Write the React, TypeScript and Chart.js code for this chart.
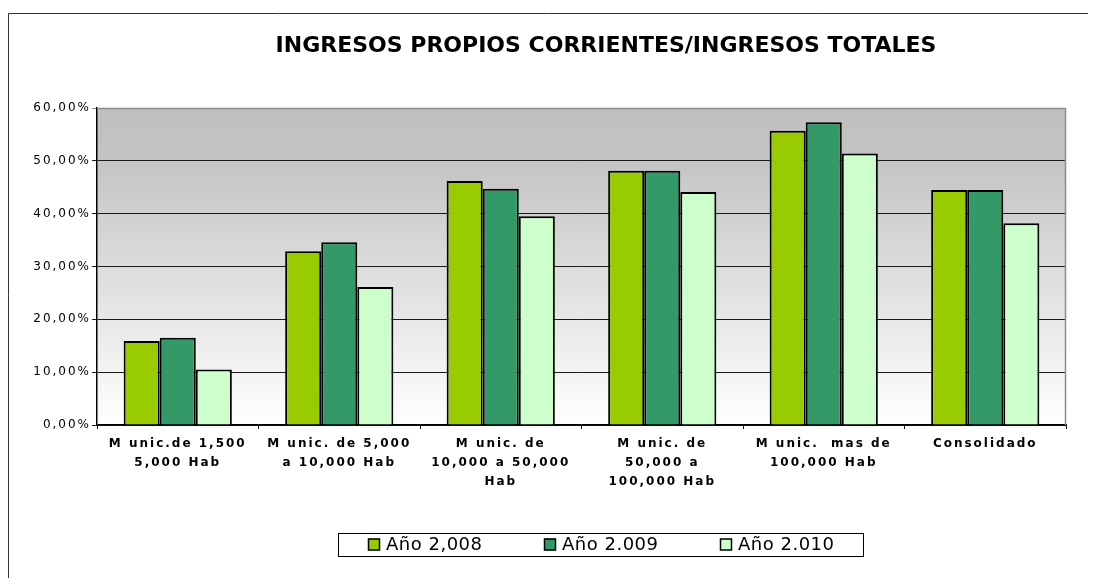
import React, { useEffect, useRef } from 'react';
import { Chart, registerables } from 'chart.js';

Chart.register(...registerables);

const chartTitle = 'INGRESOS PROPIOS CORRIENTES/INGRESOS TOTALES';
const categories = [
  ['M unic.de 1,500', '5,000 Hab'],
  ['M unic. de 5,000', 'a 10,000 Hab'],
  ['M unic. de', '10,000 a 50,000', 'Hab'],
  ['M unic. de', '50,000 a', '100,000 Hab'],
  ['M unic.  mas de', '100,000 Hab'],
  ['Consolidado'],
];
const seriesNames = ['Año 2,008', 'Año 2.009', 'Año 2.010'];
const values2008 = [15.9, 32.9, 46.2, 48.1, 55.7, 44.5];
const values2009 = [16.5, 34.6, 44.7, 48.1, 57.3, 44.5];
const values2010 = [10.5, 26.1, 39.5, 44.1, 51.4, 38.2];
const yTickLabels = ['0,00%', '10,00%', '20,00%', '30,00%', '40,00%', '50,00%', '60,00%'];
const seriesColors = ['#99CC00', '#339966', '#CCFFCC'];

const W = 1080;
const H = 570;

const decorPlugin = {
  id: 'decor',
  beforeDraw(chart: any) {
    const { ctx, chartArea: a } = chart;
    ctx.save();
    // outer frame (left + top)
    ctx.strokeStyle = '#333333';
    ctx.lineWidth = 1;
    ctx.beginPath();
    ctx.moveTo(0.5, H);
    ctx.lineTo(0.5, 5.5);
    ctx.lineTo(W, 5.5);
    ctx.stroke();
    // plot background gradient
    const g = ctx.createLinearGradient(0, a.top, 0, a.bottom);
    g.addColorStop(0, '#c0c0c0');
    g.addColorStop(0.15, '#c3c3c3');
    g.addColorStop(1, '#ffffff');
    ctx.fillStyle = g;
    ctx.fillRect(a.left, a.top, a.right - a.left, a.bottom - a.top);
    ctx.restore();
    // letter spacing on axis labels
    const sp: any = { x: '2px', y: '2px' };
    for (const id of ['x', 'y']) {
      const s: any = chart.scales[id];
      if (s && !s.__ls) {
        const orig = s.drawLabels.bind(s);
        s.drawLabels = (area: any) => {
          const c = s.ctx;
          c.save();
          c.letterSpacing = sp[id];
          orig(area);
          c.restore();
        };
        s.__ls = true;
      }
    }
  },
  beforeDatasetsDraw(chart: any) {
    const { ctx, chartArea: a } = chart;
    ctx.save();
    ctx.strokeStyle = '#8c8c8c';
    ctx.lineWidth = 1.5;
    ctx.beginPath();
    ctx.moveTo(a.left, a.top + 0.5);
    ctx.lineTo(a.right - 0.5, a.top + 0.5);
    ctx.lineTo(a.right - 0.5, a.bottom);
    ctx.stroke();
    ctx.restore();
  },
  afterDraw(chart: any) {
    const { ctx } = chart;
    ctx.save();
    // title
    ctx.fillStyle = '#000';
    ctx.font = 'bold 22px "DejaVu Sans"';
    ctx.textAlign = 'center';
    ctx.textBaseline = 'middle';
    ctx.fillText(chartTitle, 598, 38);
    // legend
    const bx = 330, by = 525, bw = 525, bh = 23;
    ctx.fillStyle = '#ffffff';
    ctx.fillRect(bx, by, bw, bh);
    ctx.strokeStyle = '#000';
    ctx.lineWidth = 1;
    ctx.strokeRect(bx + 0.5, by + 0.5, bw, bh);
    ctx.font = '18px "DejaVu Sans"';
    ctx.textAlign = 'left';
    (ctx as any).letterSpacing = '0.5px';
    chart.data.datasets.forEach((ds: any, i: number) => {
      const sx = 360 + i * 176;
      const sy = by + bh / 2 - 6;
      ctx.fillStyle = ds.backgroundColor;
      ctx.fillRect(sx, sy, 12, 12);
      ctx.strokeStyle = '#000';
      ctx.lineWidth = 1.5;
      ctx.strokeRect(sx + 0.5, sy + 0.5, 11, 11);
      ctx.fillStyle = '#000';
      ctx.fillText(ds.label, sx + 18, by + bh / 2 + 1);
    });
    ctx.restore();
  },
};

export default function App() {
  const ref = useRef<HTMLCanvasElement>(null);
  useEffect(() => {
    if (!ref.current) return;
    const series = [values2008, values2009, values2010];
    const chart = new Chart(ref.current, {
      type: 'bar',
      data: {
        labels: categories,
        datasets: series.map((d, i) => ({
          label: seriesNames[i],
          data: d,
          backgroundColor: seriesColors[i],
          borderColor: '#000000',
          borderWidth: 2,
          categoryPercentage: 0.67,
          barPercentage: 1,
        })),
      },
      options: {
        responsive: false,
        animation: false,
        events: [],
        layout: { padding: { left: 9, right: 22, top: 100, bottom: 0 } },
        plugins: {
          legend: { display: false },
          title: { display: false },
          tooltip: { enabled: false },
        },
        scales: {
          x: {
            afterFit: (s: any) => {
              s.height = 153;
              s.paddingLeft = 0;
              s.paddingRight = 0;
            },
            grid: {
              drawOnChartArea: false,
              drawTicks: true,
              tickLength: 4,
              color: '#000000',
              offset: true,
            },
            border: { color: '#000000', width: 1.5 },
            ticks: {
              autoSkip: false,
              maxRotation: 0,
              minRotation: 0,
              padding: 5,
              color: '#000000',
              font: { family: '"DejaVu Sans"', size: 12, weight: 'bold', lineHeight: 1.583 },
            },
          },
          y: {
            min: 0,
            max: 60,
            afterFit: (s: any) => {
              s.width = 80;
              s.paddingTop = 0;
              s.paddingBottom = 0;
            },
            grid: {
              color: (c: any) => (c.tick && c.tick.value === 60 ? '#8c8c8c' : '#1a1a1a'),
              lineWidth: 1,
              tickLength: 5,
            },
            border: { color: '#000000', width: 1.5 },
            ticks: {
              stepSize: 10,
              padding: 1,
              color: '#000000',
              font: { family: '"DejaVu Sans"', size: 12 },
              callback: (_v: any, i: number) => yTickLabels[i],
            },
          },
        },
      },
      plugins: [decorPlugin],
    });
    return () => chart.destroy();
  }, []);
  return (
    <canvas ref={ref} width={W} height={H} style={{ display: 'block', width: W, height: H }} />
  );
}
